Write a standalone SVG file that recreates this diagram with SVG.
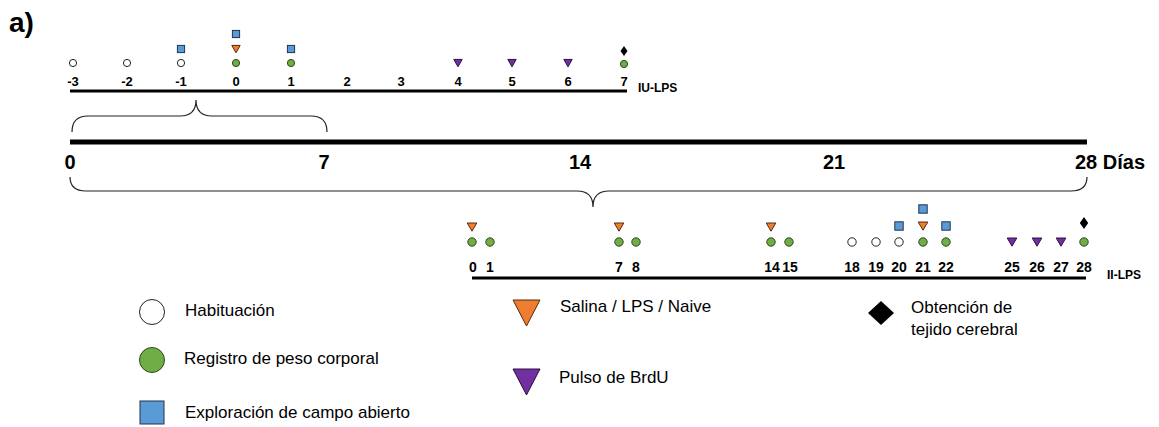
<svg xmlns="http://www.w3.org/2000/svg" xmlns:xlink="http://www.w3.org/1999/xlink" width="1159" height="427" viewBox="0 0 1159 427">
<style>
text{font-family:"Liberation Sans",Arial,sans-serif;fill:#000}
.b{font-weight:bold}
.tl{font-size:13px;font-weight:bold;text-anchor:middle}
.bl{font-size:14px;font-weight:bold;text-anchor:middle}
.ml{font-size:20px;font-weight:bold;text-anchor:middle}
.lg{font-size:17px}
.wh{fill:#fff;stroke:#222;stroke-width:1}
.gr{fill:#70AD47;stroke:#2d4a1c;stroke-width:1}
.bu{fill:#5B9BD5;stroke:#1f3550;stroke-width:1}
.or{fill:#ED7D31;stroke:#5a2a0a;stroke-width:1}
.pu{fill:#7030A0;stroke:#2c0f45;stroke-width:1}
.bk{fill:#000}
.brace{fill:none;stroke:#222;stroke-width:1.2}
</style>
<defs>
<circle id="cs" r="3.6"/>
<rect id="ss" x="-3.6" y="-3.6" width="7.2" height="7.2"/>
<path id="ts" d="M-4.2,-3.6 L4.2,-3.6 L0,3.8 Z"/>
<path id="ds" d="M0,-5 L3.5,0 L0,5 L-3.5,0 Z"/>
<circle id="cb" r="4.2"/>
<rect id="sb" x="-4.2" y="-4.2" width="8.4" height="8.4"/>
<path id="tb" d="M-4.8,-4 L4.8,-4 L0,4.2 Z"/>
<path id="db" d="M0,-6 L4.2,0 L0,6 L-4.2,0 Z"/>
</defs>

<text x="9" y="32" class="b" style="font-size:28px">a)</text>

<g id="timeline-iu-lps">
<line x1="70" y1="91" x2="627" y2="91" stroke="#000" stroke-width="3.2"/>
<text class="tl" x="73" y="86">-3</text>
<text class="tl" x="127" y="86">-2</text>
<text class="tl" x="181" y="86">-1</text>
<text class="tl" x="236" y="86">0</text>
<text class="tl" x="291" y="86">1</text>
<text class="tl" x="347" y="86">2</text>
<text class="tl" x="401" y="86">3</text>
<text class="tl" x="458" y="86">4</text>
<text class="tl" x="512" y="86">5</text>
<text class="tl" x="568" y="86">6</text>
<text class="tl" x="624" y="86">7</text>
<text class="b" x="638" y="92" style="font-size:12px">IU-LPS</text>
</g>

<g id="markers-iu-lps">
<use href="#cs" class="wh" x="73" y="63"/>
<use href="#cs" class="wh" x="127" y="63"/>
<use href="#cs" class="wh" x="181" y="63"/>
<use href="#cs" class="gr" x="236" y="63"/>
<use href="#cs" class="gr" x="291" y="63"/>
<use href="#ss" class="bu" x="181" y="49"/>
<use href="#ts" class="or" x="236" y="49"/>
<use href="#ss" class="bu" x="236" y="34"/>
<use href="#ss" class="bu" x="291" y="49"/>
<use href="#ts" class="pu" x="458" y="63"/>
<use href="#ts" class="pu" x="512" y="63"/>
<use href="#ts" class="pu" x="568" y="63"/>
<use href="#cs" class="gr" x="624" y="64"/>
<use href="#ds" class="bk" x="624" y="51"/>
</g>

<g id="timeline-main">
<line x1="70" y1="142" x2="1087" y2="142" stroke="#000" stroke-width="5"/>
<text class="ml" x="70" y="169">0</text>
<text class="ml" x="324" y="169">7</text>
<text class="ml" x="580" y="169">14</text>
<text class="ml" x="834" y="169">21</text>
<text class="b" x="1075" y="169" style="font-size:20px">28 Días</text>
</g>

<g id="connectors">
<path class="brace" d="M72,132 Q72,116 88,116 L180,116 Q196,116 196,100 Q196,116 212,116 L311,116 Q327,116 327,132"/>
<path class="brace" d="M70,177 Q70,191 86,191 L577,191 Q593,191 593,207 Q593,191 609,191 L1071,191 Q1087,191 1087,177"/>
</g>

<g id="timeline-ii-lps">
<line x1="472" y1="278" x2="1086" y2="278" stroke="#000" stroke-width="3.2"/>
<text class="bl" x="473" y="272">0</text>
<text class="bl" x="490" y="272">1</text>
<text class="bl" x="619" y="272">7</text>
<text class="bl" x="636" y="272">8</text>
<text class="bl" x="772" y="272">14</text>
<text class="bl" x="790" y="272">15</text>
<text class="bl" x="852" y="272">18</text>
<text class="bl" x="876" y="272">19</text>
<text class="bl" x="899" y="272">20</text>
<text class="bl" x="923" y="272">21</text>
<text class="bl" x="946" y="272">22</text>
<text class="bl" x="1012" y="272">25</text>
<text class="bl" x="1037" y="272">26</text>
<text class="bl" x="1061" y="272">27</text>
<text class="bl" x="1084" y="272">28</text>
<text class="b" x="1107" y="279" style="font-size:12px">II-LPS</text>
</g>

<g id="markers-ii-lps">
<use href="#cb" class="gr" x="472" y="242"/>
<use href="#cb" class="gr" x="490" y="242"/>
<use href="#cb" class="gr" x="619" y="242"/>
<use href="#cb" class="gr" x="636" y="242"/>
<use href="#cb" class="gr" x="771" y="242"/>
<use href="#cb" class="gr" x="789" y="242"/>
<use href="#cb" class="wh" x="852" y="242"/>
<use href="#cb" class="wh" x="876" y="242"/>
<use href="#cb" class="wh" x="899" y="242"/>
<use href="#cb" class="gr" x="923" y="242"/>
<use href="#cb" class="gr" x="946" y="242"/>
<use href="#cb" class="gr" x="1084" y="242"/>
<use href="#tb" class="or" x="472" y="227"/>
<use href="#tb" class="or" x="619" y="227"/>
<use href="#tb" class="or" x="771" y="227"/>
<use href="#tb" class="or" x="923" y="226"/>
<use href="#sb" class="bu" x="899" y="226"/>
<use href="#sb" class="bu" x="946" y="226"/>
<use href="#sb" class="bu" x="923" y="209"/>
<use href="#tb" class="pu" x="1012" y="242"/>
<use href="#tb" class="pu" x="1037" y="242"/>
<use href="#tb" class="pu" x="1061" y="242"/>
<use href="#db" class="bk" x="1084" y="223"/>
</g>

<g id="legend-habituacion">
<circle cx="152" cy="312" r="12.5" class="wh"/>
<text class="lg" x="185" y="316">Habituación</text>
</g>
<g id="legend-peso">
<circle cx="152" cy="360" r="12.5" class="gr"/>
<text class="lg" x="184" y="364">Registro de peso corporal</text>
</g>
<g id="legend-campo">
<rect x="140" y="401" width="24" height="23" class="bu"/>
<text class="lg" x="185" y="418">Exploración de campo abierto</text>
</g>
<g id="legend-salina">
<path d="M513,300 L540,300 L526.5,326 Z" class="or"/>
<text class="lg" x="560" y="312">Salina / LPS / Naive</text>
</g>
<g id="legend-brdu">
<path d="M513,369 L540,369 L526.5,395 Z" class="pu"/>
<text class="lg" x="559" y="383">Pulso de BrdU</text>
</g>
<g id="legend-tejido">
<path d="M881,301 L894,313 L881,325 L868,313 Z" class="bk"/>
<text class="lg" x="911" y="313">Obtención de</text>
<text class="lg" x="911" y="335">tejido cerebral</text>
</g>
</svg>
